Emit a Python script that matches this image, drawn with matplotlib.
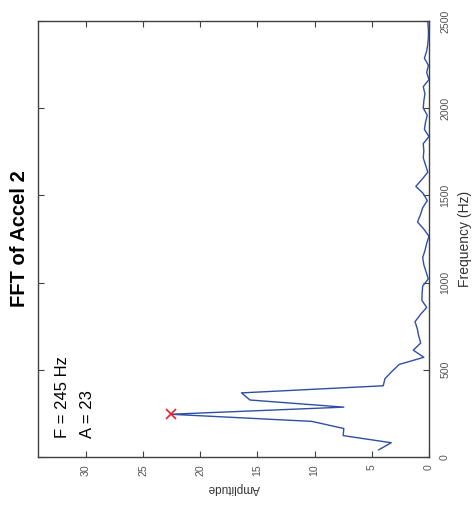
import matplotlib
matplotlib.use("Agg")
import matplotlib.pyplot as plt

plt.rcParams['font.family'] = ['Liberation Sans', 'DejaVu Sans']

# FFT of Accel 2 (figure is drawn turned by 90 degrees, as in the reference)
freq = [40.8, 81.7, 122.5, 163.3, 204.2, 245.0, 285.8, 326.7, 367.5, 408.3,
        449.2, 490.0, 530.8, 571.7, 612.5, 653.3, 694.2, 735.0, 775.8, 816.7,
        857.5, 898.3, 939.2, 980.0, 1020.8, 1061.7, 1102.5, 1143.3, 1184.2, 1225.0,
        1265.8, 1306.7, 1347.5, 1388.3, 1429.2, 1470.0, 1510.8, 1551.7, 1592.5, 1633.3,
        1674.2, 1715.0, 1755.8, 1796.7, 1837.5, 1878.3, 1919.2, 1960.0, 2000.8, 2041.7,
        2082.5, 2123.3, 2164.2, 2205.0, 2245.8, 2286.7, 2327.5, 2368.3, 2409.2, 2450.0,
        2490.8, 2531.7]
amp = [4.4, 3.3, 7.5, 7.45, 10.25, 22.6, 7.45, 15.65, 16.4, 4.0,
       3.85, 3.25, 2.6, 0.45, 1.37, 0.72, 0.9, 1.02, 1.22, 0.75,
       0.2, 0.62, 0.6, 0.55, 0.06, 0.25, 0.45, 0.55, 0.35, 0.2,
       0.0, 0.45, 1.0, 0.75, 0.55, 0.15, 0.5, 1.15, 0.6, 0.1,
       0.3, 0.5, 0.45, 0.5, 0.0, 0.4, 0.3, 0.15, 0.5, 0.45,
       0.35, 0.5, 0.0, 0.2, 0.05, 0.4, 0.2, 0.1, 0.05, 0.05,
       0.1, 0.1]
peak_f = 245.0
peak_a = 22.6
amp_ticks = [0, 5, 10, 15, 20, 25, 30]
freq_ticks = [0, 500, 1000, 1500, 2000, 2500]

fig = plt.figure(figsize=(4.74, 5.19), dpi=100)
ax = fig.add_axes([0.080, 0.1195, 0.825, 0.8400])

ax.plot(amp, freq, color='#2E4FA3', linewidth=1.0)
ax.plot([peak_a], [peak_f], 'x', color='#E8202A', markersize=7, markeredgewidth=1.2)

ax.text(31.65, 109, 'F = 245 Hz', rotation=90, rotation_mode='anchor',
        ha='left', va='baseline', fontsize=12)
ax.text(29.45, 109, 'A = 23', rotation=90, rotation_mode='anchor',
        ha='left', va='baseline', fontsize=12)

ax.set_xlim(34.2, 0)
ax.set_ylim(0, 2500)
ax.set_xticks(amp_ticks)
ax.set_yticks(freq_ticks)
ax.set_xticklabels([str(t) for t in amp_ticks], rotation=90)
ax.set_yticklabels([str(t) for t in freq_ticks], rotation=90, va='center')

ax.yaxis.tick_right()
ax.yaxis.set_label_position('right')
ax.tick_params(axis='both', direction='in', length=4, width=0.8, colors='#404040',
               labelcolor='#555555', labelsize=7.6, top=True, left=True, bottom=True, right=True)
ax.tick_params(axis='x', pad=5.5)
ax.tick_params(axis='y', pad=8)
for s in ax.spines.values():
    s.set_color('#404040')
    s.set_linewidth(1.0)

ax.set_ylabel('Frequency (Hz)', fontsize=10, color='#333333', rotation=90, labelpad=6)
ax.set_xlabel('Amplitude', fontsize=8.5, color='#333333', rotation=180, labelpad=4)

fig.text(0.042, 0.54, 'FFT of Accel 2', rotation=90, ha='center', va='center',
         fontsize=14.5, fontweight='bold')

fig.savefig('out.png', dpi=100)
